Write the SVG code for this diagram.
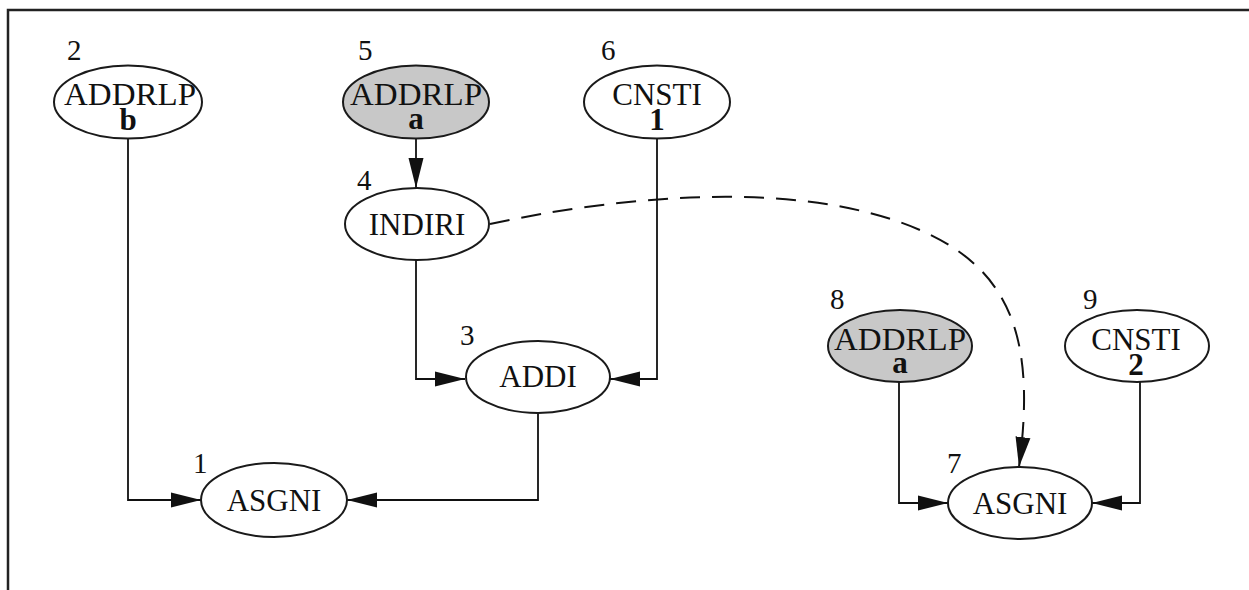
<svg xmlns="http://www.w3.org/2000/svg" width="1249" height="590" viewBox="0 0 1249 590">
  <style>
    .node ellipse { fill: #ffffff; stroke: #1a1a1a; stroke-width: 2; }
    .node.shaded ellipse { fill: #c8c8c8; }
    .op { font-family: "Liberation Serif", "Times New Roman", serif; font-size: 31px; fill: #111; text-anchor: middle; }
    .arg { font-family: "Liberation Serif", "Times New Roman", serif; font-size: 31px; font-weight: bold; fill: #111; text-anchor: middle; }
    .num { font-family: "Liberation Serif", "Times New Roman", serif; font-size: 29px; fill: #111; }
    .edge { fill: none; stroke: #111; stroke-width: 1.8; }
    .dashed { stroke-width: 2; stroke-dasharray: 20 12; }
    .frame { fill: none; stroke: #222; stroke-width: 2.5; }
  </style>
  <defs>
    <marker id="arrow" markerWidth="30" markerHeight="16" refX="30" refY="8" orient="auto" markerUnits="userSpaceOnUse">
      <path d="M0,0.5 L30,8 L0,15.5 Z" fill="#111"/>
    </marker>
  </defs>

  <rect width="1249" height="590" fill="#ffffff"/>
  <!-- page frame -->
  <path class="frame" d="M8,590 L8,10 L1249,10"/>

  <!-- connectors -->
  <g id="edges">
    <path class="edge" d="M416,139 L416,188" marker-end="url(#arrow)"/>
    <path class="edge" d="M416,260 L416,379 L465,379" marker-end="url(#arrow)"/>
    <path class="edge" d="M657,139 L657,379 L610,379" marker-end="url(#arrow)"/>
    <path class="edge" d="M128,139 L128,500 L201,500" marker-end="url(#arrow)"/>
    <path class="edge" d="M538,413 L538,500 L347,500" marker-end="url(#arrow)"/>
    <path class="edge" d="M899,382 L899,503 L948,503" marker-end="url(#arrow)"/>
    <path class="edge" d="M1140,382 L1140,503 L1092,503" marker-end="url(#arrow)"/>
    <path class="edge dashed" d="M490,224 C620,196 800,178 920,230 C1012,270 1036,340 1019,467" marker-end="url(#arrow)"/>
  </g>

  <g id="n2" class="node">
    <ellipse cx="128" cy="102" rx="74" ry="36.5"/>
    <text class="op" x="130" y="105" textLength="132" lengthAdjust="spacingAndGlyphs">ADDRLP</text>
    <text class="arg" x="128" y="130">b</text>
    <text class="num" x="67" y="60">2</text>
  </g>
  <g id="n5" class="node shaded">
    <ellipse cx="416" cy="102" rx="73" ry="36.5"/>
    <text class="op" x="416" y="105" textLength="132" lengthAdjust="spacingAndGlyphs">ADDRLP</text>
    <text class="arg" x="416" y="129">a</text>
    <text class="num" x="358" y="60">5</text>
  </g>
  <g id="n6" class="node">
    <ellipse cx="657" cy="102" rx="73" ry="36.5"/>
    <text class="op" x="657" y="105">CNSTI</text>
    <text class="arg" x="657" y="130">1</text>
    <text class="num" x="601" y="60">6</text>
  </g>
  <g id="n4" class="node">
    <ellipse cx="417" cy="224" rx="72" ry="36"/>
    <text class="op" x="417" y="235">INDIRI</text>
    <text class="num" x="357" y="190">4</text>
  </g>
  <g id="n3" class="node">
    <ellipse cx="538" cy="377" rx="72" ry="36"/>
    <text class="op" x="538" y="387">ADDI</text>
    <text class="num" x="460" y="345">3</text>
  </g>
  <g id="n1" class="node">
    <ellipse cx="274" cy="500" rx="73" ry="37"/>
    <text class="op" x="274" y="511">ASGNI</text>
    <text class="num" x="193" y="473">1</text>
  </g>
  <g id="n8" class="node shaded">
    <ellipse cx="900" cy="346" rx="72" ry="36"/>
    <text class="op" x="900" y="350" textLength="132" lengthAdjust="spacingAndGlyphs">ADDRLP</text>
    <text class="arg" x="900" y="373">a</text>
    <text class="num" x="830" y="309">8</text>
  </g>
  <g id="n9" class="node">
    <ellipse cx="1137" cy="346" rx="72" ry="36"/>
    <text class="op" x="1136" y="350">CNSTI</text>
    <text class="arg" x="1136" y="375">2</text>
    <text class="num" x="1083" y="309">9</text>
  </g>
  <g id="n7" class="node">
    <ellipse cx="1020" cy="503" rx="72" ry="36"/>
    <text class="op" x="1020" y="514">ASGNI</text>
    <text class="num" x="947" y="473">7</text>
  </g>
</svg>
